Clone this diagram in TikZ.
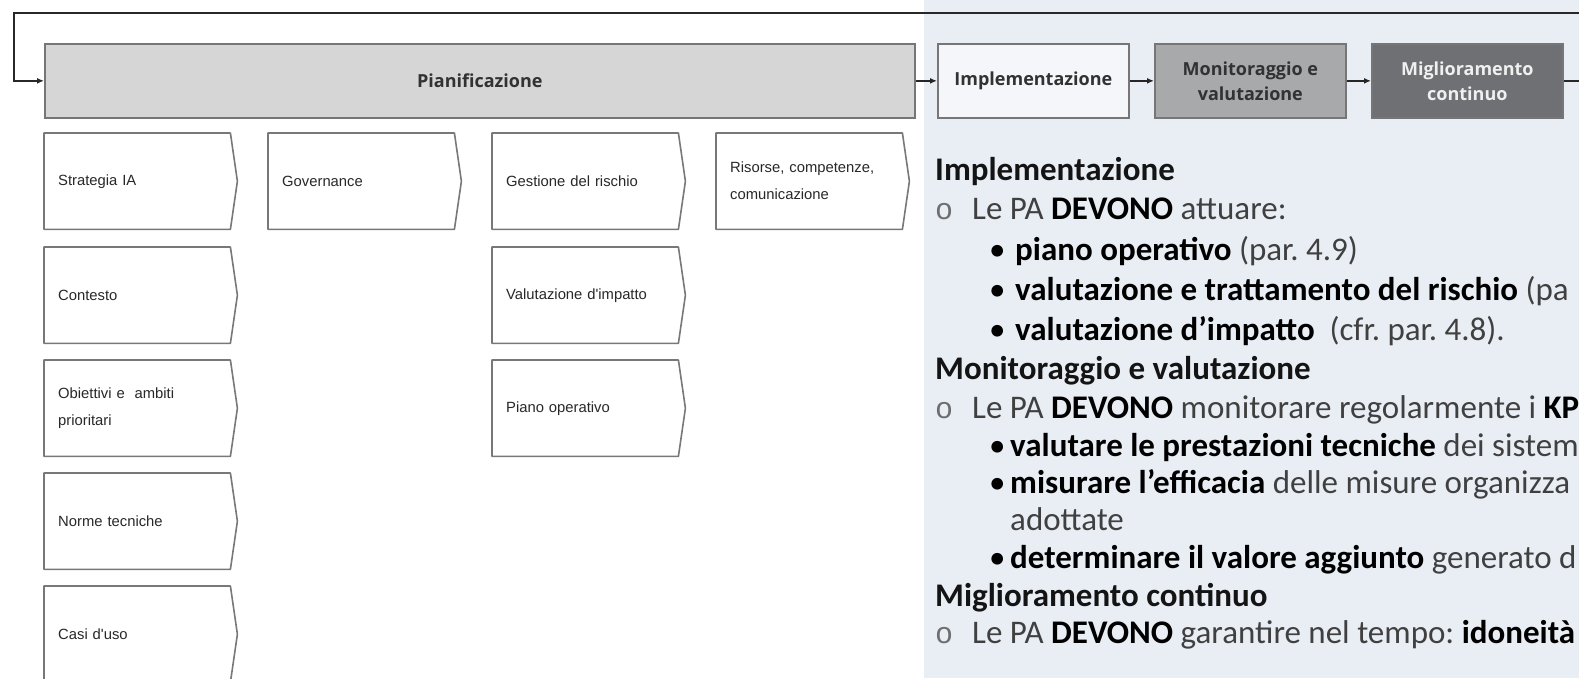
\documentclass[tikz,border=0pt]{standalone}
\usepackage{fontspec}
\setmainfont{Carlito}
\newfontfamily\boxfont{Liberation Sans}
\newfontfamily\stagefont{Open Sans}
\newfontfamily\circfont{Liberation Mono}
\usetikzlibrary{arrows.meta}
\definecolor{panelbg}{RGB}{233,238,245}
\definecolor{boxtext}{RGB}{40,40,40}
\definecolor{stagetext}{RGB}{50,50,50}
\definecolor{tagedge}{RGB}{120,120,120}
\definecolor{stageedge}{RGB}{118,118,120}
\definecolor{planfill}{RGB}{214,214,214}
\definecolor{implfill}{RGB}{244,246,250}
\definecolor{monfill}{RGB}{168,169,171}
\definecolor{migfill}{RGB}{110,112,116}
\definecolor{ptext}{RGB}{64,64,64}
\definecolor{pcircle}{RGB}{110,110,110}
\definecolor{loopcol}{RGB}{40,40,40}
\newcommand\tagoutline[1]{\draw[tagline] (#1.north west) -- (#1.north east) -- ([xshift=7pt]#1.east) -- (#1.south east) -- (#1.south west) -- cycle;}
\newcommand\bx[1]{{\bfseries\color{black}#1}}
\frenchspacing
\begin{document}
\begin{tikzpicture}[x=1pt,y=-1pt,
  tagbox/.style={anchor=north west, minimum height=96pt, text width=158pt, inner xsep=14pt, inner ysep=0pt, align=left, font=\boxfont\fontsize{14.8}{27}\selectfont, text=boxtext},
  tagline/.style={draw=tagedge, line width=1.6pt, line join=round},
  stage/.style={anchor=north west, minimum width=191pt, minimum height=74pt, inner sep=0pt, draw=stageedge, line width=1.7pt, align=center, font=\stagefont\bfseries\fontsize{18}{25}\selectfont, text=stagetext},
  flow/.style={draw=black!85, line width=1.6pt, -{Latex[length=7pt,width=6pt]}},
  loopline/.style={draw=loopcol, line width=2.4pt, -{Latex[length=7pt,width=6pt]}},
  ptxt/.style={anchor=base west, inner sep=0pt, font=\fontsize{33}{40}\selectfont, text=ptext},
  phead/.style={ptxt, font=\bfseries\fontsize{33}{40}\selectfont, text=black!92},
  pcirc/.style={anchor=base west, inner sep=0pt, font=\circfont\fontsize{30}{40}\selectfont, text=pcircle},
  pbul/.style={anchor=base west, inner sep=0pt, font=\fontsize{33}{40}\selectfont, text=black}
]
\useasboundingbox (0,0) rectangle (1579,678);
\fill[white] (0,0) rectangle (1579,678);
\fill[panelbg] (924,0) rectangle (1579,678);

% stage boxes
\node[stage, minimum width=870pt, fill=planfill] (plan) at (44,43) {Pianificazione};
\node[stage, fill=implfill] (impl) at (937,43) {Implementazione};
\node[stage, fill=monfill] (mon) at (1154,43) {Monitoraggio e\\valutazione};
\node[stage, fill=migfill, text=white!94!black] (mig) at (1371,43) {Miglioramento\\continuo};

\draw[flow] (plan.east) -- (impl.west);
\draw[flow] (impl.east) -- (mon.west);
\draw[flow] (mon.east) -- (mig.west);
\coordinate (loopTR) at (1600,13);
\coordinate (loopTL) at (14,13);
\draw[loopline] (mig.east) -| (loopTR) -- (loopTL) |- (plan.west);

% tag boxes
\node[tagbox] (s1) at (44,133) {Strategia IA};
\node[tagbox] (s2) at (44,247) {Contesto};
\node[tagbox] (s3) at (44,360) {Obiettivi e\ \ ambiti\\prioritari};
\node[tagbox] (s4) at (44,473) {Norme tecniche};
\node[tagbox] (s5) at (44,586) {Casi d'uso};
\node[tagbox] (g1) at (268,133) {Governance};
\node[tagbox] (r1) at (492,133) {Gestione del rischio};
\node[tagbox] (r2) at (492,247) {Valutazione d'impatto};
\node[tagbox] (r3) at (492,360) {Piano operativo};
\node[tagbox] (c1) at (716,133) {Risorse, competenze,\\comunicazione};
\foreach \n in {s1,s2,s3,s4,s5,g1,r1,r2,r3,c1} {\tagoutline{\n}}

% right panel text
\node[phead] (h1) at (935,180) {Implementazione};
\node[pcirc] (o1) at (935,219) {o};
\node[ptxt] (t1) at (972,219) {Le PA \bx{DEVONO} attuare:};
\node[pbul] (u1) at (989,260) {•};
\node[ptxt] (t2) at (1015,260) {\bx{piano operativo} (par. 4.9)};
\node[pbul] (u2) at (989,300) {•};
\node[ptxt] (t3) at (1015,300) {\bx{valutazione e trattamento del rischio} (pa};
\node[pbul] (u3) at (989,340) {•};
\node[ptxt] (t4) at (1015,340) {\bx{valutazione d’impatto}\ \ (cfr. par. 4.8).};
\node[phead] (h2) at (935,379) {Monitoraggio e valutazione};
\node[pcirc] (o2) at (935,418) {o};
\node[ptxt] (t5) at (972,418) {Le PA \bx{DEVONO} monitorare regolarmente i \bx{KP}};
\node[pbul] (u4) at (989,456) {•};
\node[ptxt] (t6) at (1010,456) {\bx{valutare le prestazioni tecniche} dei sistem};
\node[pbul] (u5) at (989,493) {•};
\node[ptxt] (t7) at (1010,493) {\bx{misurare l’efficacia} delle misure organizza};
\node[ptxt] (t8) at (1010,530) {adottate};
\node[pbul] (u6) at (989,568) {•};
\node[ptxt] (t9) at (1010,568) {\bx{determinare il valore aggiunto} generato d};
\node[phead] (h3) at (935,606) {Miglioramento continuo};
\node[pcirc] (o3) at (935,643) {o};
\node[ptxt] (t10) at (972,643) {Le PA \bx{DEVONO} garantire nel tempo: \bx{idoneità}};
\end{tikzpicture}
\end{document}
